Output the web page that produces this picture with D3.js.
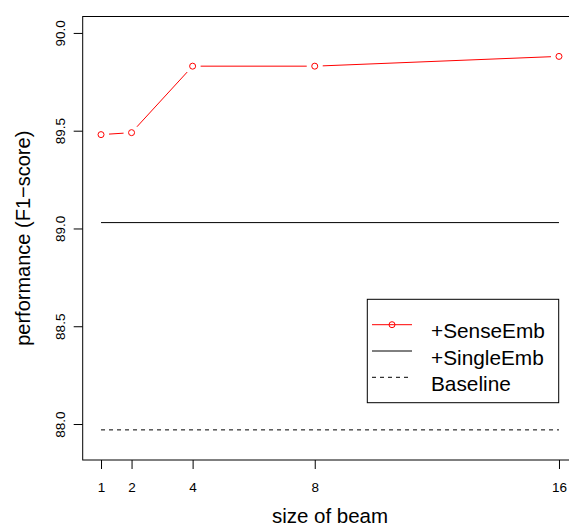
<!DOCTYPE html>
<html>
<head>
<meta charset="utf-8">
<script src="https://cdn.jsdelivr.net/npm/d3@7"></script>
<style>
  body { margin: 0; background: #fff; }
  svg { display: block; font-family: "Liberation Sans", Arial, Helvetica, sans-serif; }
</style>
</head>
<body>
<script>
const w = 569;
const h = 527;

// data
const beams = [1, 2, 4, 8, 16];
const senseEmb = [89.48, 89.49, 89.83, 89.83, 89.88];
const singleEmb = [89.03, 89.03];
const baseline = [87.97, 87.97];
const yTicks = [88.0, 88.5, 89.0, 89.5, 90.0];
const legendNames = ["+SenseEmb", "+SingleEmb", "Baseline"];

const plotLeft = 82.7, plotRight = 577.3, plotTop = 16.5, plotBottom = 460;

let svg = d3.select("body").append("svg")
    .attr("width", w)
    .attr("height", h);

// R style: 4% padding around data range
let xScale = d3.scaleLinear().domain([0.4, 16.6]).range([plotLeft, plotRight]);
let yScale = d3.scaleLinear().domain([87.816, 90.084]).range([plotBottom, plotTop]);

// box
svg.append("rect")
    .attr("x", plotLeft)
    .attr("y", plotTop)
    .attr("width", plotRight - plotLeft)
    .attr("height", plotBottom - plotTop)
    .attr("fill", "none")
    .attr("stroke", "#000")
    .attr("stroke-width", 1);

// x axis
let xAxis = svg.append("g")
    .attr("transform", "translate(0," + plotBottom + ")")
    .call(d3.axisBottom(xScale).tickValues(beams).tickSize(9).tickSizeOuter(0));
xAxis.select(".domain").remove();
xAxis.selectAll("line").attr("stroke", "#000");
xAxis.selectAll("text")
    .attr("y", 31.5)
    .attr("dy", null)
    .style("font-size", "13.5px")
    .style("font-family", "Liberation Sans, Arial, sans-serif")
    .attr("fill", "#000");

// y axis
let yAxis = svg.append("g")
    .attr("transform", "translate(" + plotLeft + ",0)")
    .call(d3.axisLeft(yScale).tickValues(yTicks).tickFormat(d3.format(".1f")).tickSize(9).tickSizeOuter(0));
yAxis.select(".domain").remove();
yAxis.selectAll("line").attr("stroke", "#000");
yAxis.selectAll("text")
    .attr("x", null)
    .attr("dy", null)
    .attr("transform", "translate(-18,0) rotate(-90)")
    .attr("text-anchor", "middle")
    .style("font-size", "13.5px")
    .style("font-family", "Liberation Sans, Arial, sans-serif")
    .attr("fill", "#000");

// reference lines
let flat = d3.line().x(d => xScale(d[0])).y(d => yScale(d[1]));
svg.append("path")
    .attr("d", flat([[beams[0], singleEmb[0]], [beams[beams.length - 1], singleEmb[1]]]))
    .attr("stroke", "#000")
    .attr("fill", "none");
svg.append("path")
    .attr("d", flat([[beams[0], baseline[0]], [beams[beams.length - 1], baseline[1]]]))
    .attr("stroke", "#000")
    .attr("stroke-dasharray", "4,4")
    .attr("fill", "none");

// sense emb: type="b" -> segments with gaps around points
const gap = 8;
let pts = beams.map((b, i) => [xScale(b), yScale(senseEmb[i])]);
for (let i = 0; i < pts.length - 1; i++) {
    let [x1, y1] = pts[i], [x2, y2] = pts[i + 1];
    let len = Math.hypot(x2 - x1, y2 - y1);
    let ux = (x2 - x1) / len, uy = (y2 - y1) / len;
    svg.append("line")
        .attr("x1", x1 + ux * gap).attr("y1", y1 + uy * gap)
        .attr("x2", x2 - ux * gap).attr("y2", y2 - uy * gap)
        .attr("stroke", "red");
}
svg.selectAll(".pt")
    .data(pts)
    .enter()
    .append("circle")
    .attr("class", "pt")
    .attr("cx", d => d[0])
    .attr("cy", d => d[1])
    .attr("r", 3)
    .attr("fill", "none")
    .attr("stroke", "red");

// legend
let lg = svg.append("g");
lg.append("rect")
    .attr("x", 367.3).attr("y", 299.3)
    .attr("width", 191.4).attr("height", 103.4)
    .attr("fill", "none").attr("stroke", "#000");
legendNames.forEach((name, i) => {
    let ly = 324.7 + i * 26.3;
    lg.append("line")
        .attr("x1", 372).attr("x2", 412)
        .attr("y1", ly).attr("y2", ly)
        .attr("stroke", i == 0 ? "red" : "#000")
        .attr("stroke-dasharray", i == 2 ? "4,4" : null);
    if (i == 0) {
        lg.append("circle").attr("cx", 392).attr("cy", ly).attr("r", 3)
            .attr("fill", "none").attr("stroke", "red");
    }
    lg.append("text")
        .attr("x", 431)
        .attr("y", ly + 13.5)
        .style("font-size", "20.8px")
        .text(name);
});

// axis titles
svg.append("text")
    .attr("x", (plotLeft + plotRight) / 2)
    .attr("y", 523)
    .attr("text-anchor", "middle")
    .style("font-size", "20.5px")
    .text("size of beam");

svg.append("text")
    .attr("transform", "translate(30," + (plotTop + plotBottom) / 2 + ") rotate(-90)")
    .attr("text-anchor", "middle")
    .style("font-size", "20px")
    .text("performance (F1\u2212score)");
</script>
</body>
</html>
